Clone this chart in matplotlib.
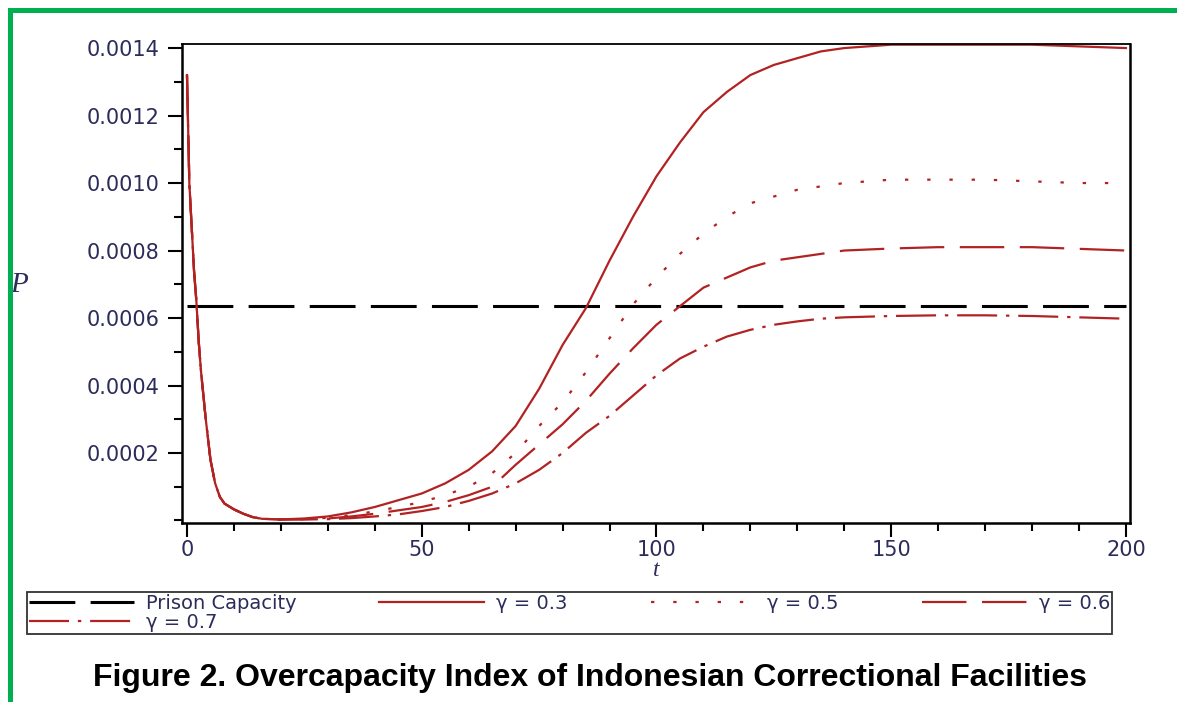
import numpy as np
import matplotlib
matplotlib.use("Agg")
import matplotlib.pyplot as plt
from matplotlib.patches import Rectangle
from matplotlib.ticker import MultipleLocator, FixedLocator

# shared early decay (all gamma curves coincide here)
t_early = [0, 0.5, 1, 1.5, 2, 2.5, 3, 3.5, 4, 4.5, 5, 6, 7, 8, 10, 12, 14, 16]
p_early = [0.00132, 0.00100, 0.00087, 0.00074, 0.00065, 0.00053, 0.00044, 0.00037,
           0.00030, 0.00024, 0.00018, 0.00011, 0.00007, 0.00005, 0.000033, 0.00002,
           0.00001, 0.000005]

t_late = [20, 25, 30, 35, 40, 45, 50, 55, 60, 65, 70, 75, 80, 85, 90, 95, 100,
          105, 110, 115, 120, 125, 130, 135, 140, 150, 160, 170, 180, 190, 200]

p_g03 = [3e-6, 6e-6, 1.2e-5, 2.4e-5, 4e-5, 6e-5, 8e-5, 1.1e-4, 1.5e-4, 2.05e-4,
         2.8e-4, 3.9e-4, 5.2e-4, 6.3e-4, 7.7e-4, 9.0e-4, 1.02e-3, 1.12e-3, 1.21e-3, 1.27e-3,
         1.32e-3, 1.35e-3, 1.37e-3, 1.39e-3, 1.40e-3, 1.41e-3, 1.41e-3, 1.41e-3, 1.41e-3, 1.405e-3, 1.40e-3]
p_g05 = [3e-6, 4e-6, 8e-6, 1.6e-5, 2.7e-5, 4e-5, 5.5e-5, 7.5e-5, 1.0e-4, 1.4e-4,
         2.0e-4, 2.8e-4, 3.5e-4, 4.4e-4, 5.4e-4, 6.4e-4, 7.2e-4, 7.9e-4, 8.5e-4, 9.0e-4,
         9.4e-4, 9.6e-4, 9.8e-4, 9.9e-4, 1.0e-3, 1.01e-3, 1.01e-3, 1.01e-3, 1.005e-3, 1.0e-3, 1.0e-3]
p_g06 = [3e-6, 4e-6, 6e-6, 1.2e-5, 2e-5, 3e-5, 4e-5, 5.5e-5, 7.5e-5, 1.0e-4,
         1.65e-4, 2.25e-4, 2.85e-4, 3.55e-4, 4.35e-4, 5.1e-4, 5.8e-4, 6.35e-4, 6.9e-4, 7.2e-4,
         7.5e-4, 7.7e-4, 7.8e-4, 7.9e-4, 8.0e-4, 8.06e-4, 8.1e-4, 8.1e-4, 8.1e-4, 8.05e-4, 8.0e-4]
p_g07 = [3e-6, 3e-6, 4e-6, 7e-6, 1.2e-5, 1.8e-5, 2.8e-5, 4e-5, 5.8e-5, 8e-5,
         1.1e-4, 1.5e-4, 2.0e-4, 2.6e-4, 3.1e-4, 3.7e-4, 4.3e-4, 4.8e-4, 5.15e-4, 5.45e-4,
         5.65e-4, 5.8e-4, 5.9e-4, 5.98e-4, 6.02e-4, 6.06e-4, 6.08e-4, 6.08e-4, 6.06e-4, 6.02e-4, 5.98e-4]

capacity = 0.000635
yticks = [0.0002, 0.0004, 0.0006, 0.0008, 0.0010, 0.0012, 0.0014]
ytick_labels = ["0.0002", "0.0004", "0.0006", "0.0008", "0.0010", "0.0012", "0.0014"]
xticks = [0, 50, 100, 150, 200]
caption = "Figure 2. Overcapacity Index of Indonesian Correctional Facilities"

red = "#b22222"
txt = "#2c2c5a"

fig = plt.figure(figsize=(11.77, 7.02), dpi=100)
ax = fig.add_axes([0.1546, 0.255, 0.8054, 0.6823])

t_all = t_early + t_late
series = [
    (p_g03, "γ = 0.3", "-"),
    (p_g05, "γ = 0.5", (0, (1.5, 8.5))),
    (p_g06, "γ = 0.6", (0, (20, 7))),
    (p_g07, "γ = 0.7", (0, (18, 4, 1.5, 4))),
]
handles = {}
cap_line, = ax.plot([0, 200], [capacity, capacity], color="black", lw=2.2,
                    linestyle=(0, (15, 5)), label="Prison Capacity")
for vals, lab, ls in series:
    h, = ax.plot(t_all, p_early + vals, color=red, lw=1.6, linestyle=ls, label=lab)
    handles[lab] = h

ax.set_xlim(-1.07, 200.85)
ax.set_ylim(-0.0000074, 0.001412)

ax.xaxis.set_major_locator(FixedLocator(xticks))
ax.xaxis.set_minor_locator(MultipleLocator(10))
ax.yaxis.set_major_locator(FixedLocator(yticks))
ax.set_yticklabels(ytick_labels)
ax.yaxis.set_minor_locator(MultipleLocator(0.0001))
ax.tick_params(axis="both", which="major", length=10, width=1.5, labelsize=15,
               labelcolor=txt, top=False, right=False)
ax.tick_params(axis="both", which="minor", length=6, width=1.5, top=False, right=False)
ax.tick_params(axis="y", pad=6)
ax.tick_params(axis="x", pad=2)
for s in ax.spines.values():
    s.set_linewidth(1.8)
ax.spines["top"].set_linewidth(1.3)

ax.set_xlabel("t", fontsize=17, fontstyle="italic", family="Liberation Serif",
              color=txt, labelpad=0)
ax.set_ylabel("P", fontsize=21, fontstyle="italic", family="Liberation Serif",
              color=txt, rotation=0, va="center", ha="center")
ax.yaxis.set_label_coords(-0.172, 0.497)

# legend fills column-major, so gamma=0.7 goes second to sit under Prison Capacity
order = [cap_line, handles["γ = 0.7"], handles["γ = 0.3"], handles["γ = 0.5"], handles["γ = 0.6"]]
leg = fig.legend(order, [h.get_label() for h in order], ncol=4, mode="expand",
                 loc="lower left", bbox_to_anchor=(27 / 1177, 1 - 634 / 702, 1085 / 1177, 48 / 702),
                 fontsize=14, labelcolor=txt, handlelength=5.4, handletextpad=0.6,
                 borderpad=0.1, labelspacing=0.0, borderaxespad=0, frameon=True,
                 fancybox=False, edgecolor="black")
leg.get_frame().set_linewidth(1.3)

fig.text(0.501, 1 - 678 / 702, caption, ha="center", va="center", fontsize=23,
         fontweight="bold", family="Liberation Sans", color="black")

# green page border (top and left)
green = "#00b050"
fig.add_artist(Rectangle((8 / 1177, 1 - 13 / 702), 1 - 8 / 1177, 5 / 702,
                         transform=fig.transFigure, color=green, lw=0))
fig.add_artist(Rectangle((8 / 1177, 0), 5 / 1177, 1 - 8 / 702,
                         transform=fig.transFigure, color=green, lw=0))

fig.savefig("out.png", dpi=100)
